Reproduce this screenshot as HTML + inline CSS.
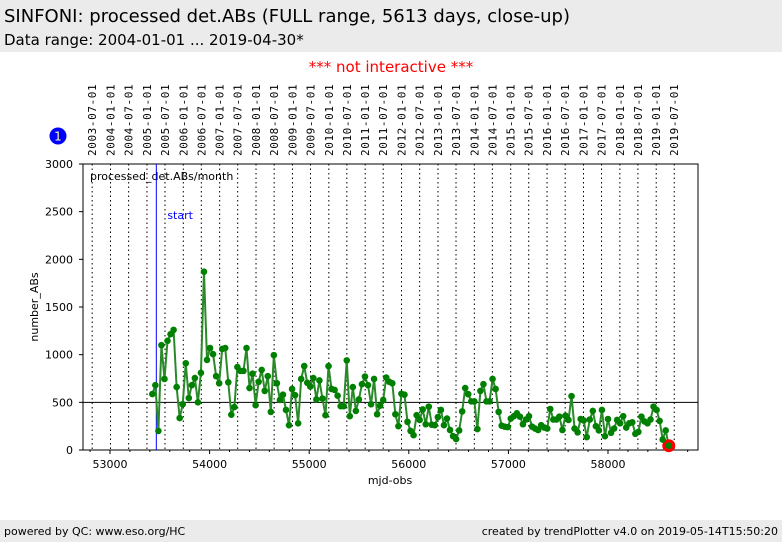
<!DOCTYPE html>
<html><head><meta charset="utf-8"><style>
body{margin:0;width:782px;height:542px;background:#fff;font-family:"DejaVu Sans","Liberation Sans",sans-serif;overflow:hidden;position:relative}
.hdr{position:absolute;left:0;top:0;width:782px;height:52px;background:#ebebeb}
.ftr{position:absolute;left:0;top:520px;width:782px;height:22px;background:#ebebeb;font-size:11px}
</style></head><body>
<div class="hdr">
<div style="position:absolute;left:4px;top:6px;font-size:18px">SINFONI: processed det.ABs (FULL range, 5613 days, close-up)</div>
<div style="position:absolute;left:4px;top:31px;font-size:15px">Data range: 2004-01-01 ... 2019-04-30*</div>
</div>
<div style="position:absolute;left:0;width:782px;top:58px;text-align:center;color:#f00;font-size:15px">*** not interactive ***</div>
<svg id="chart" width="782" height="542" style="position:absolute;left:0;top:0"></svg>
<div class="ftr">
<span style="position:absolute;left:4px;top:5px">powered by QC: www.eso.org/HC</span>
<span style="position:absolute;right:4px;top:5px">created by trendPlotter v4.0 on 2019-05-14T15:50:20</span>
</div>
<script>
const values=[587,680,200,1100,745,1145,1215,1260,660,335,480,910,545,680,755,500,810,1870,945,1070,1005,775,700,1060,1070,710,370,450,870,830,830,1070,650,800,470,715,840,620,775,400,995,700,525,580,420,260,640,575,280,745,880,705,665,755,
530,730,540,365,880,640,630,570,460,460,940,355,660,410,530,690,770,680,480,745,375,465,525,760,715,700,375,250,590,580,295,200,155,365,315,425,270,455,265,260,345,420,260,330,210,145,115,205,405,650,585,510,510,220,620,690,510,510,745,640,400,
255,245,240,330,355,385,350,270,320,355,245,225,210,260,235,225,430,320,320,350,210,360,315,565,225,185,325,310,135,320,410,250,205,420,145,325,180,225,315,280,355,235,280,290,170,190,350,300,280,320,455,420,305,110,205,45];
const firstMjd=53425, stepDays=30.5;
const yTicks=[0,500,1000,1500,2000,2500,3000];
const xTicks=[53000,54000,55000,56000,57000,58000];
const threshold=500, startMjd=53465;
const dateLabels=[];
for(let y=2003;y<=2019;y++){for(const m of ["01","07"]){if(y===2003&&m==="01")continue;dateLabels.push(y+"-"+m+"-01");}}

const L=83,R=698,T=164,B=450;
const X=m=>110+(m-53000)*0.0996;
const Y=v=>B-v*(B-T)/3000;
const svg=document.getElementById('chart');
const NS='http://www.w3.org/2000/svg';
function mk(t,a,p){const e=document.createElementNS(NS,t);for(const k in a)e.setAttribute(k,a[k]);(p||svg).appendChild(e);return e;}
dateLabels.forEach(d=>{
  const mjd=Date.parse(d+"T00:00:00Z")/86400000+40587;const x=X(mjd);
  const ln=mk('line',{x1:x,x2:x,y1:T,y2:B,stroke:'#000','stroke-width':1,'stroke-dasharray':'1.5,3'});
  
  const t=mk('text',{x:0,y:0,transform:`translate(${x+4},156) rotate(-90)`,'font-size':11,'font-family':'DejaVu Sans Mono,Liberation Mono,monospace','letter-spacing':'0.6'});
  t.textContent=d;
  
});
const fr=mk('rect',{x:L,y:T,width:R-L,height:B-T,fill:'none',stroke:'#000','stroke-width':1});

yTicks.forEach(v=>{
  mk('line',{x1:L-4,x2:L,y1:Y(v),y2:Y(v),stroke:'#000'});
  const t=mk('text',{x:L-10,y:Y(v)+4,'text-anchor':'end','font-size':11});t.textContent=v;
  
});
for(let m=52800;m<=58800;m+=200){const x=X(m);if(x<L||x>R)continue;mk('line',{x1:x,x2:x,y1:B,y2:B+(m%1000===0?4:2),stroke:'#000'});}
xTicks.forEach(m=>{const t=mk('text',{x:X(m),y:B+18,'text-anchor':'middle','font-size':11});t.textContent=m;
  });
let t=mk('text',{x:390,y:484,'text-anchor':'middle','font-size':11});t.textContent='mjd-obs';

t=mk('text',{x:0,y:0,transform:'translate(38,307) rotate(-90)','text-anchor':'middle','font-size':11});t.textContent='number_ABs';

t=mk('text',{x:90,y:180,'font-size':11});t.textContent='processed_det.ABs/month';

const th=mk('line',{x1:L,x2:R,y1:Y(threshold),y2:Y(threshold),stroke:'#000','stroke-width':1});

const sl=mk('line',{x1:X(startMjd),x2:X(startMjd),y1:T,y2:B,stroke:'#00f','stroke-width':1});

t=mk('text',{x:X(startMjd)+11,y:219,'font-size':11,fill:'#00f'});t.textContent='start';

const pts=values.map((v,i)=>[X(firstMjd+i*stepDays),Y(v)]);
const pl=mk('polyline',{points:pts.map(p=>p.join(',')).join(' '),fill:'none',stroke:'#2a8a2a','stroke-width':2});

const last=pts[pts.length-1];
const rc=mk('circle',{cx:last[0],cy:last[1],r:6.5,fill:'#f00'});

pts.forEach(p=>{const c=mk('circle',{cx:p[0],cy:p[1],r:3.3,fill:'#008000'});
  });
const bc=mk('circle',{cx:58,cy:136,r:8.5,fill:'#0000ff'});

t=mk('text',{x:58,y:140.5,'text-anchor':'middle','font-size':12,fill:'#ffff99'});t.textContent='1';

</script>
</body></html>
